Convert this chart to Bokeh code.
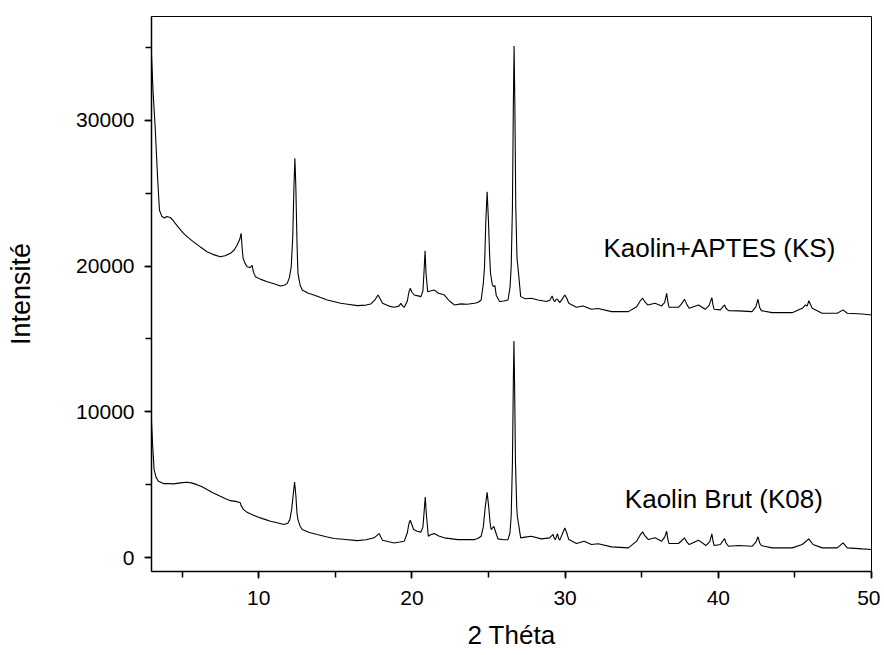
from bokeh.plotting import figure
from bokeh.models import Range1d, SingleIntervalTicker, Label, BasicTickFormatter
from bokeh.embed import file_html
from bokeh.resources import INLINE

# ---- data ----
two_theta_ks = [3.00, 3.10, 3.24, 3.40, 3.52, 3.67, 3.85, 4.00, 4.22, 4.40, 4.55, 4.80, 5.09, 5.40, 5.74,
                6.20, 6.62, 7.00, 7.49, 7.80, 8.15, 8.40, 8.59, 8.75, 8.85, 8.92, 8.98, 9.10, 9.24, 9.45,
                9.57, 9.65, 9.78, 10.10, 10.55, 11.00, 11.42, 11.70, 11.86, 12.00, 12.12, 12.22, 12.30,
                12.36, 12.42, 12.50, 12.56, 12.70, 12.84, 13.20, 13.60, 14.00, 14.48, 15.35, 15.80, 16.44,
                17.00, 17.32, 17.60, 17.79, 17.95, 18.08, 18.50, 18.84, 19.15, 19.28, 19.40, 19.50, 19.70,
                19.80, 19.89, 20.00, 20.15, 20.40, 20.59, 20.72, 20.80, 20.86, 20.92, 21.03, 21.25, 21.46,
                21.70, 22.12, 22.45, 22.77, 23.20, 23.60, 24.08, 24.30, 24.52, 24.66, 24.74, 24.82, 24.91,
                25.00, 25.07, 25.13, 25.25, 25.35, 25.42, 25.50, 25.72, 26.00, 26.27, 26.40, 26.48, 26.56,
                26.62, 26.67, 26.72, 26.78, 26.86, 26.92, 27.10, 27.40, 27.79, 28.23, 28.78, 29.00, 29.15,
                29.25, 29.32, 29.42, 29.50, 29.65, 29.85, 29.98, 30.10, 30.24, 30.74, 31.18, 31.72, 32.16,
                33.03, 34.13, 34.67, 34.90, 35.06, 35.20, 35.39, 35.87, 36.30, 36.50, 36.63, 36.70, 36.78,
                37.40, 37.60, 37.79, 37.95, 38.10, 38.71, 39.14, 39.40, 39.58, 39.65, 39.73, 40.13, 40.41,
                40.50, 40.67, 41.33, 42.20, 42.45, 42.59, 42.70, 42.81, 43.51, 44.82, 45.48, 45.69, 45.80,
                45.91, 46.13, 46.78, 47.77, 48.14, 48.42, 49.40, 50.00]
intensity_ks = [34500, 32000, 29500, 26000, 23830, 23420, 23300, 23400, 23330, 23150, 22920, 22600, 22240,
                21950, 21660, 21300, 20980, 20800, 20640, 20700, 20870, 21100, 21440, 21800, 22240, 21200,
                20530, 20200, 19950, 19900, 20050, 19600, 19270, 19100, 18920, 18780, 18630, 18700, 18810,
                19200, 19950, 22000, 25500, 27400, 25500, 21500, 19500, 18700, 18360, 18150, 18010, 17850,
                17670, 17440, 17380, 17280, 17320, 17400, 17700, 18010, 17700, 17440, 17250, 17170, 17250,
                17440, 17250, 17170, 17600, 18200, 18470, 18200, 18010, 17950, 17900, 18300, 19800, 21050,
                19500, 18240, 18300, 18360, 18150, 18010, 17600, 17330, 17400, 17380, 17440, 17500, 17670,
                18800, 19950, 23000, 25100, 23000, 20800, 19500, 18700, 18580, 18650, 18000, 17560, 17600,
                17670, 18500, 19950, 24000, 31000, 35100, 31000, 24000, 20500, 19950, 17900, 17750, 17790,
                17670, 17560, 17650, 17940, 17650, 17560, 17720, 17720, 17490, 17800, 18010, 17800, 17440,
                17170, 17260, 17030, 17080, 16870, 16870, 17210, 17600, 17790, 17550, 17330, 17440, 17260,
                17500, 18130, 17600, 17170, 17170, 17400, 17720, 17350, 17100, 17330, 17030, 17300, 17830,
                17350, 17030, 16990, 17330, 17100, 16940, 16920, 16870, 17200, 17720, 17150, 16940, 16800,
                16800, 17100, 17330, 17250, 17620, 17100, 16760, 16760, 16990, 16760, 16710, 16640]

two_theta_k08 = [3.00, 3.08, 3.17, 3.30, 3.45, 3.78, 4.10, 4.43, 4.90, 5.31, 5.60, 5.97, 6.30, 6.62, 7.00,
                 7.49, 7.80, 8.15, 8.50, 8.69, 8.80, 8.85, 9.00, 9.24, 9.55, 9.90, 10.30, 10.77, 11.20,
                 11.64, 11.90, 12.03, 12.15, 12.25, 12.34, 12.42, 12.50, 12.56, 12.70, 12.84, 13.30, 13.82,
                 14.40, 14.91, 15.50, 16.44, 17.00, 17.53, 17.70, 17.86, 17.97, 18.08, 18.50, 18.84, 19.20,
                 19.50, 19.70, 19.80, 19.89, 20.00, 20.11, 20.35, 20.59, 20.72, 20.80, 20.87, 20.94, 21.07,
                 21.25, 21.46, 21.75, 22.12, 23.00, 24.08, 24.30, 24.52, 24.66, 24.78, 24.91, 25.02, 25.10,
                 25.17, 25.28, 25.35, 25.45, 25.61, 26.00, 26.27, 26.40, 26.48, 26.56, 26.62, 26.66, 26.70,
                 26.76, 26.84, 26.88, 27.10, 27.40, 27.79, 28.45, 28.99, 29.21, 29.30, 29.37, 29.50, 29.58,
                 29.65, 29.85, 29.98, 30.10, 30.24, 30.74, 31.24, 31.72, 32.16, 33.03, 34.13, 34.67, 34.90,
                 35.06, 35.20, 35.44, 35.87, 36.30, 36.50, 36.63, 36.70, 36.78, 37.40, 37.60, 37.79, 37.95,
                 38.10, 38.71, 39.19, 39.45, 39.58, 39.65, 39.73, 40.13, 40.41, 40.50, 40.67, 41.33, 42.20,
                 42.45, 42.59, 42.70, 42.81, 43.51, 44.82, 45.48, 45.91, 46.18, 46.78, 47.77, 48.14, 48.42,
                 49.40, 50.00]
intensity_k08 = [9300, 7600, 6030, 5500, 5230, 5070, 5080, 5050, 5120, 5160, 5120, 5000, 4850, 4660, 4450,
                 4200, 4050, 3900, 3850, 3790, 3750, 3560, 3300, 3100, 2950, 2790, 2650, 2490, 2380, 2260,
                 2350, 2600, 3300, 4300, 5180, 4300, 3000, 2600, 2150, 1920, 1720, 1580, 1430, 1300, 1250,
                 1160, 1220, 1350, 1500, 1640, 1400, 1190, 1080, 1000, 1060, 1120, 1700, 2300, 2560, 2250,
                 1920, 1800, 1740, 2100, 3200, 4150, 3000, 1460, 1580, 1640, 1480, 1350, 1230, 1230, 1300,
                 1460, 2100, 3400, 4470, 3400, 2400, 1920, 2050, 2140, 1800, 1280, 1220, 1230, 1700, 2830,
                 6500, 12000, 14850, 12000, 6500, 3500, 2830, 1350, 1400, 1460, 1280, 1350, 1580, 1300, 1230,
                 1640, 1300, 1190, 1700, 2030, 1700, 1230, 960, 1120, 890, 940, 730, 660, 1120, 1550, 1760,
                 1500, 1230, 1350, 1120, 1400, 1800, 1300, 960, 960, 1150, 1350, 1050, 890, 1190, 820, 1100,
                 1620, 1150, 820, 890, 1300, 1000, 770, 820, 770, 1050, 1420, 1000, 820, 660, 660, 890, 1280,
                 890, 660, 660, 1000, 660, 590, 550]

series_labels = ["Kaolin+APTES (KS)", "Kaolin Brut (K08)"]
x_title = "2 Théta"
y_title = "Intensité"

FONT = "Liberation Sans"

p = figure(width=880, height=652, output_backend="svg", toolbar_location=None,
           x_range=Range1d(3, 50), y_range=Range1d(-960, 37120),
           min_border_left=151, min_border_right=9, min_border_top=16, min_border_bottom=80)

p.line(two_theta_ks, intensity_ks, line_color="black", line_width=1.1)
p.line(two_theta_k08, intensity_k08, line_color="black", line_width=1.1)

p.add_layout(Label(x=32.5, y=21230, text=series_labels[0], text_font=FONT, text_font_size="26px",
                   text_color="black", text_baseline="middle", text_align="left"))
p.add_layout(Label(x=33.9, y=4040, text=series_labels[1], text_font=FONT, text_font_size="26px",
                   text_color="black", text_baseline="middle", text_align="left"))

p.xgrid.visible = False
p.ygrid.visible = False
p.outline_line_color = "black"
p.outline_line_width = 1
p.background_fill_color = "white"
p.border_fill_color = "white"

p.xaxis.ticker = SingleIntervalTicker(interval=10, num_minor_ticks=2)
p.yaxis.ticker = SingleIntervalTicker(interval=10000, num_minor_ticks=2)
p.yaxis.formatter = BasicTickFormatter(use_scientific=False)

for ax in (p.xaxis, p.yaxis):
    ax.axis_line_color = "black"
    ax.axis_line_width = 1.5
    ax.major_tick_line_color = "black"
    ax.minor_tick_line_color = "black"
    ax.major_tick_line_width = 1.5
    ax.minor_tick_line_width = 1.5
    ax.major_tick_in = 0
    ax.major_tick_out = 7
    ax.minor_tick_in = 0
    ax.minor_tick_out = 6
    ax.major_label_text_font = FONT
    ax.major_label_text_font_size = "21px"
    ax.major_label_text_color = "black"
    ax.axis_label_text_font = FONT
    ax.axis_label_text_font_style = "normal"
    ax.axis_label_text_color = "black"

p.xaxis.axis_label = x_title
p.yaxis.axis_label = y_title
p.xaxis.axis_label_text_font_size = "26px"
p.yaxis.axis_label_text_font_size = "27px"
p.xaxis.major_label_standoff = 12
p.yaxis.major_label_standoff = 10
p.xaxis.axis_label_standoff = 12
p.yaxis.axis_label_standoff = 37

open("out.html", "w").write(file_html(p, INLINE))
